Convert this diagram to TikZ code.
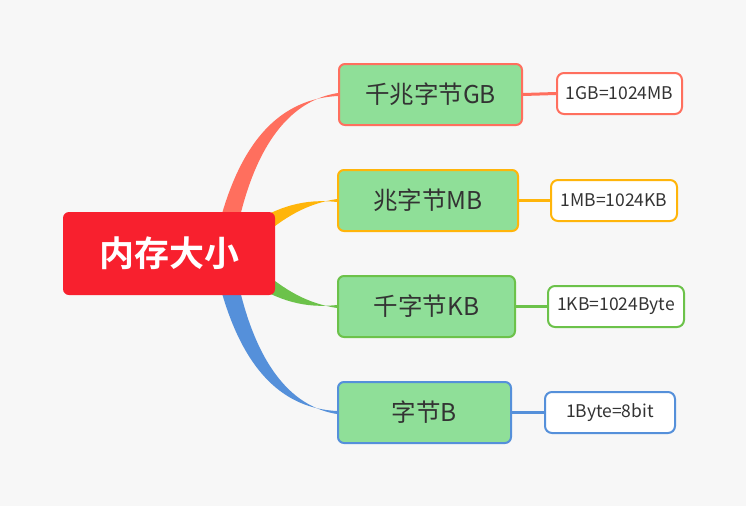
\documentclass[tikz,border=0pt]{standalone}
\usepackage{fontspec}
\setmainfont{Noto Sans CJK SC}
\newfontfamily\cjkb{Noto Sans CJK SC Bold}
\pgfdeclarelayer{bgpaper}
\pgfdeclarelayer{links}
\pgfsetlayers{bgpaper,links,main}
\begin{document}
\begin{tikzpicture}[x=1pt,y=-1pt,
  every node/.style={inner sep=0pt},
  rootbox/.style={fill=rootred,rounded corners=6pt,minimum width=212pt,minimum height=83pt,text=white,font=\cjkb\fontsize{35}{35}\selectfont},
  branchbox/.style={fill=leafgreen,draw=#1,line width=2pt,rounded corners=6pt,minimum height=61pt,text=txt,font=\fontsize{24.5}{24.5}\selectfont},
  leafbox/.style={fill=white,draw=#1,line width=2pt,rounded corners=7pt,minimum height=41pt,text=txt,font=\fontsize{17.5}{17.5}\selectfont},
  link/.style={draw=#1,line width=3pt}]
\definecolor{bg}{HTML}{F7F7F7}
\definecolor{rootred}{HTML}{F8202E}
\definecolor{leafgreen}{HTML}{8FDF98}
\definecolor{cred}{HTML}{FF6F5E}
\definecolor{cyel}{HTML}{FFB50A}
\definecolor{cgrn}{HTML}{6CC24A}
\definecolor{cblu}{HTML}{5590DA}
\definecolor{txt}{HTML}{333333}

% root
\node[rootbox] (root) at (169,253.5) {内存大小};

% branch nodes
\node[branchbox=cred,minimum width=183pt] (b1) at (430.5,94.5) {千兆字节GB};
\node[branchbox=cyel,minimum width=180pt] (b2) at (428,200.5) {兆字节MB};
\node[branchbox=cgrn,minimum width=177pt] (b3) at (426.5,306.5) {千字节KB};
\node[branchbox=cblu,minimum width=173pt] (b4) at (424.5,412.5) {字节B};

% leaf nodes
\node[leafbox=cred,minimum width=125pt] (l1) at (619.5,93.5) {1GB=1024MB};
\node[leafbox=cyel,minimum width=126pt] (l2) at (614,200.5) {1MB=1024KB};
\node[leafbox=cgrn,minimum width=136pt] (l3) at (616,306.5) {1KB=1024Byte};
\node[leafbox=cblu,minimum width=130pt] (l4) at (610,412.5) {1Byte=8bit};

\begin{pgfonlayer}{bgpaper}
\fill[bg] (0,0) rectangle (746,506);
\end{pgfonlayer}
\useasboundingbox (0,0) rectangle (746,506);

\begin{pgfonlayer}{links}
% branch-to-leaf links
\path[link=cred] (b1.east) -- (l1.west);
\path[link=cyel] (b2.east) -- (l2.west);
\path[link=cgrn] (b3.east) -- (l3.west);
\path[link=cblu] (b4.east) -- (l4.west);

% tapered root connectors
\fill[cred] (212,255) .. controls (226,185) and (255,100) .. ([yshift=-1.5pt]b1.west)
  -- ([yshift=1.5pt]b1.west) .. controls (268,104) and (242,190) .. (232,258) -- cycle;
\fill[cblu] (212,252) .. controls (226,322) and (255,407) .. ([yshift=1.5pt]b4.west)
  -- ([yshift=-1.5pt]b4.west) .. controls (268,403) and (242,317) .. (232,249) -- cycle;
\fill[cyel] (248,226) .. controls (278,206) and (305,198.5) .. ([yshift=-1.5pt]b2.west)
  -- ([yshift=1.5pt]b2.west) .. controls (308,203.5) and (285,216) .. (258,240) -- cycle;
\fill[cgrn] (248,281) .. controls (278,301) and (305,308.5) .. ([yshift=1.5pt]b3.west)
  -- ([yshift=-1.5pt]b3.west) .. controls (308,303.5) and (285,291) .. (258,267) -- cycle;
\end{pgfonlayer}
\end{tikzpicture}
\end{document}
